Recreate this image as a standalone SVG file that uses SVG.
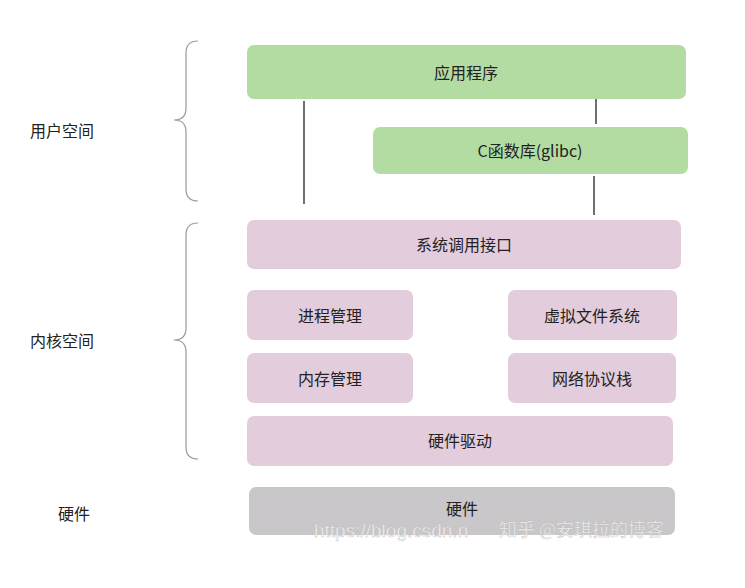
<svg xmlns="http://www.w3.org/2000/svg" width="745" height="588" viewBox="0 0 745 588">
<style>
.g{fill:#b3dca2}
.p{fill:#e3cddc}
.h{fill:#c9c7c9}
.t{font-family:"Noto Sans CJK SC","Liberation Sans",sans-serif;font-size:16px;fill:#222;text-anchor:middle;dominant-baseline:central}
.l{font-family:"Noto Sans CJK SC","Liberation Sans",sans-serif;font-size:16px;fill:#222;dominant-baseline:central}
.br{fill:none;stroke:#9a9a9a;stroke-width:1.2}
.c{stroke:#222;stroke-width:1.3}
.wm{font-family:"Liberation Sans","Noto Sans CJK SC",sans-serif;font-size:19px;fill:#ffffff;fill-opacity:0.75;stroke:#bbb;stroke-width:0.4}
</style>
<rect width="745" height="588" fill="#fff"/>
<g id="braces">
<path class="br" d="M198,41 Q186,41 186,53 L186,108 Q186,120 174,120 Q186,120 186,132 L186,189 Q186,201 198,201"/>
<path class="br" d="M198,223 Q186,223 186,235 L186,328 Q186,340 174,340 Q186,340 186,352 L186,447 Q186,459 198,459"/>
</g>
<g id="labels">
<text class="l" x="30" y="130">用户空间</text>
<text class="l" x="30" y="340">内核空间</text>
<text class="l" x="58" y="513">硬件</text>
</g>
<g id="connectors">
<line class="c" x1="304" y1="101" x2="304" y2="204"/>
<line class="c" x1="596" y1="97" x2="596" y2="124"/>
<line class="c" x1="594" y1="176" x2="594" y2="215"/>
</g>
<g id="app"><rect class="g" x="247" y="45" width="439" height="54" rx="7"/><text class="t" x="466" y="72">应用程序</text></g>
<g id="glibc"><rect class="g" x="373" y="127" width="315" height="47" rx="7"/><text class="t" x="530" y="150">C函数库(glibc)</text></g>
<g id="syscall"><rect class="p" x="247" y="220" width="434" height="49" rx="7"/><text class="t" x="464" y="244">系统调用接口</text></g>
<g id="proc"><rect class="p" x="247" y="290" width="166" height="50" rx="7"/><text class="t" x="330" y="315">进程管理</text></g>
<g id="vfs"><rect class="p" x="508" y="290" width="169" height="50" rx="7"/><text class="t" x="592" y="315">虚拟文件系统</text></g>
<g id="mem"><rect class="p" x="247" y="353" width="166" height="50" rx="7"/><text class="t" x="330" y="378">内存管理</text></g>
<g id="net"><rect class="p" x="508" y="353" width="168" height="50" rx="7"/><text class="t" x="592" y="378">网络协议栈</text></g>
<g id="driver"><rect class="p" x="247" y="416" width="426" height="50" rx="7"/><text class="t" x="460" y="440">硬件驱动</text></g>
<g id="hw"><rect class="h" x="249" y="487" width="426" height="48" rx="7"/><text class="t" x="462" y="508">硬件</text></g>
<g id="watermark">
<text class="wm" x="314" y="537">https://blog.csdn.n</text>
<text class="wm" x="499" y="536" style="font-family:'Noto Sans CJK SC',sans-serif;font-size:18px">知乎 @安琪拉的博客</text>
</g>
</svg>
